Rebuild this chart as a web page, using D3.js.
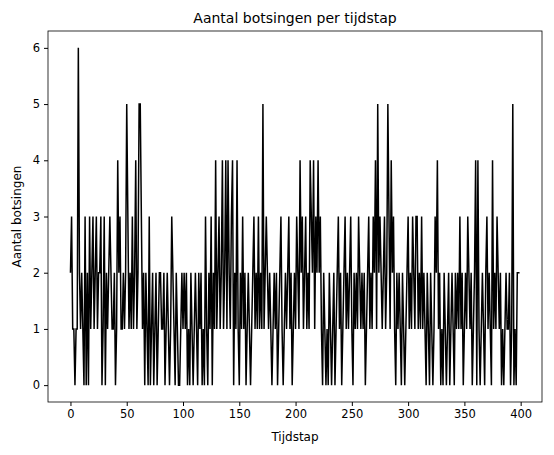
<!DOCTYPE html>
<html><head><meta charset="utf-8">
<script src="https://cdn.jsdelivr.net/npm/d3@7"></script>
<style>body{margin:0;background:#fff}text{font-family:"DejaVu Sans",sans-serif}</style>
</head><body><svg id="c" width="554" height="455"></svg>
<script>
const collisions = [
2,3,1,1,0,1,1,6,2,1,2,1,0,3,0,2,0,3,1,2,
3,1,2,3,1,2,2,3,0,1,3,0,2,1,2,3,2,1,1,2,
0,1,4,2,3,1,1,2,1,2,5,3,1,2,1,3,1,2,4,1,
2,5,5,3,1,2,0,2,1,0,3,0,1,2,0,1,2,0,1,2,
2,1,1,2,0,1,2,1,0,1,3,2,1,0,2,1,0,0,1,2,
1,2,1,2,0,1,0,2,1,0,1,2,1,0,2,1,2,0,1,0,
3,1,0,2,1,3,0,2,1,4,1,2,3,1,2,4,1,2,4,1,
4,2,1,3,4,0,2,1,4,1,0,2,1,3,1,2,0,1,2,1,
0,1,2,3,1,2,1,3,1,2,1,5,1,2,3,2,1,2,1,0,
1,2,1,2,0,1,2,3,1,0,1,2,1,2,3,1,2,0,1,2,
1,3,2,1,4,2,3,1,2,3,1,2,1,4,3,2,4,1,3,2,
4,2,3,1,0,2,1,0,1,0,2,1,0,1,2,0,1,2,3,1,
2,0,1,2,3,1,2,1,2,3,1,0,2,1,2,1,3,2,1,2,
1,2,0,1,2,3,1,2,1,3,2,4,1,5,2,3,2,1,2,3,
1,2,5,3,1,4,2,3,1,0,2,1,2,1,0,2,1,0,1,2,
3,1,2,1,3,2,1,3,3,1,2,1,3,1,2,1,0,2,1,0,
2,1,0,1,3,2,4,1,2,0,1,0,2,1,0,1,2,0,1,2,
1,0,2,1,2,1,3,1,2,0,1,2,1,3,2,1,2,0,1,2,
4,0,4,1,0,1,2,1,0,2,3,1,2,1,0,4,1,2,1,3,
2,1,2,0,1,0,1,2,1,1,2,0,1,5,0,1,0,2,2,2];
const xTicks=[0,50,100,150,200,250,300,350,400];
const yTicks=[0,1,2,3,4,5,6];
const L=48,R=542,T=31,B=402;
const svg=d3.select("#c");
const n=collisions.length-1;
const x=d3.scaleLinear().domain([-0.05*n,n*1.05]).range([L,R]);
const y=d3.scaleLinear().domain([-0.3,6.3]).range([B,T]);
svg.append("path").datum(collisions).attr("fill","none").attr("stroke","#000").attr("stroke-width",1.5)
 .attr("d",d3.line().x((d,i)=>x(i)).y(d=>y(d)));
const gx=svg.append("g").attr("transform",`translate(0,${B})`).call(d3.axisBottom(x).tickValues(xTicks).tickSize(4).tickPadding(4).tickFormat(d3.format("d")));
const gy=svg.append("g").attr("transform",`translate(${L},0)`).call(d3.axisLeft(y).tickValues(yTicks).tickSize(4).tickPadding(4).tickFormat(d3.format("d")));
[gx,gy].forEach(g=>{g.select(".domain").remove();g.selectAll("text").attr("font-size",11.5).attr("fill","#000").style("font-family","DejaVu Sans");});
svg.append("rect").attr("x",L).attr("y",T).attr("width",R-L).attr("height",B-T).attr("fill","none").attr("stroke","#000").attr("stroke-width",0.8);
svg.append("text").attr("x",(L+R)/2).attr("y",T-8).attr("text-anchor","middle").attr("font-size",14).text("Aantal botsingen per tijdstap");
svg.append("text").attr("x",(L+R)/2).attr("y",441).attr("text-anchor","middle").attr("font-size",12).text("Tijdstap");
svg.append("text").attr("transform",`translate(21,${(T+B)/2}) rotate(-90)`).attr("text-anchor","middle").attr("font-size",12).text("Aantal botsingen");
</script></body></html>
